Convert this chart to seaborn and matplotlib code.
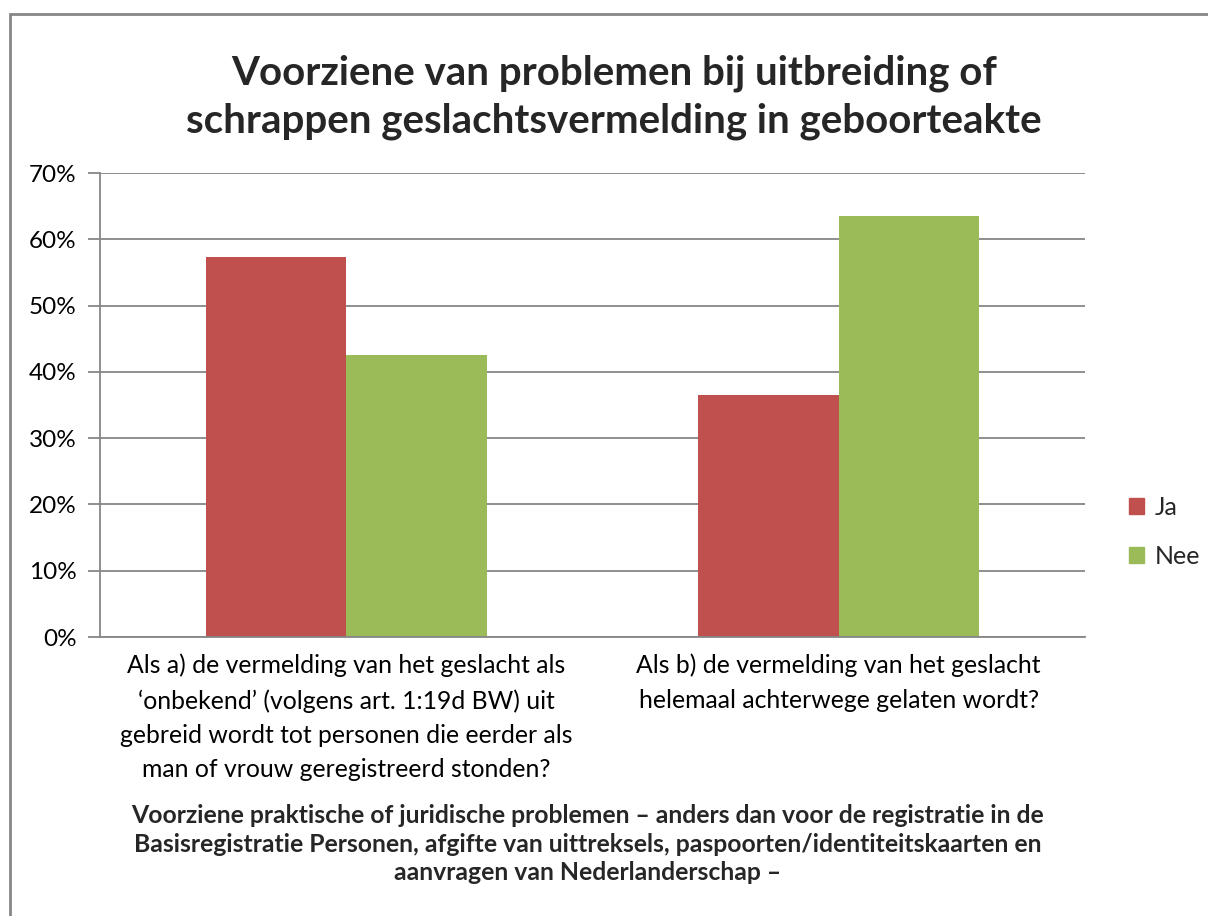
import pandas as pd
import numpy as np
import seaborn as sns
import matplotlib.pyplot as plt
from matplotlib.patches import Rectangle

# data
categories = [
    "Als a) de vermelding van het geslacht als\n"
    "\u2018onbekend\u2019 (volgens art. 1:19d BW) uit\n"
    "gebreid wordt tot personen die eerder als\n"
    "man of vrouw geregistreerd stonden?",
    "Als b) de vermelding van het geslacht\n"
    "helemaal achterwege gelaten wordt?",
]
series = ["Ja", "Nee"]
ja_values = [57.3, 36.5]
nee_values = [42.5, 63.5]
y_ticks = [0, 10, 20, 30, 40, 50, 60, 70]

title = "Voorziene van problemen bij uitbreiding of\nschrappen geslachtsvermelding in geboorteakte"
xlabel = ("Voorziene praktische of juridische problemen \u2013 anders dan voor de registratie in de\n"
          "Basisregistratie Personen, afgifte van uittreksels, paspoorten/identiteitskaarten en\n"
          "aanvragen van Nederlanderschap \u2013")

colors = {"Ja": "#C0504D", "Nee": "#9BBB59"}
grid_col = "#868686"

df = pd.DataFrame({
    "categorie": categories * 2,
    "antwoord": ["Ja"] * 2 + ["Nee"] * 2,
    "waarde": ja_values + nee_values,
})

sns.set_theme(style="white")
plt.rcParams['font.family'] = ['Lato', 'DejaVu Sans']

fig = plt.figure(figsize=(12.08, 9.16), dpi=100)
ax = fig.add_axes([100 / 1208, 1 - 637 / 916, 985 / 1208, 464 / 916])

sns.barplot(data=df, x="categorie", y="waarde", hue="antwoord", palette=colors,
            width=0.57, gap=0, saturation=1, edgecolor="none", ax=ax, legend=False)

ax.set_ylim(0, 70)
ax.set_xlim(-0.5, 1.5)
ax.set_yticks(y_ticks)
ax.set_yticklabels([f"{t}%" for t in y_ticks], fontsize=17.5, color="black")
ax.yaxis.grid(True, color=grid_col, linewidth=1.3)
ax.set_axisbelow(True)

ax.tick_params(axis="x", which="major", length=0, pad=12, labelsize=17.8, labelcolor="black")
for lab in ax.get_xticklabels():
    lab.set_linespacing(1.6)
ax.set_xticks([-0.5, 0.5, 1.5], minor=True)
ax.tick_params(axis="x", which="minor", length=9, width=1.3, color=grid_col, direction="out")
ax.tick_params(axis="y", length=9, width=1.3, color=grid_col, direction="out", left=True, pad=8)

for s in ["top", "right"]:
    ax.spines[s].set_visible(False)
for s in ["left", "bottom"]:
    ax.spines[s].set_color(grid_col)
    ax.spines[s].set_linewidth(1.3)
ax.set_xlabel("")
ax.set_ylabel("")

# legend with square markers
handles = [plt.Rectangle((0, 0), 1, 1, color=colors[s]) for s in series]
fig.legend(handles, series, loc="center left", bbox_to_anchor=(1111 / 1208, 1 - 532 / 916),
           frameon=False, fontsize=18, handlelength=0.6, handleheight=0.6,
           handletextpad=0.45, labelspacing=1.05, borderpad=0.2)

fig.text(614 / 1208, 1 - 97 / 916, title, ha="center", va="center", fontsize=29,
         fontweight="bold", linespacing=1.35)
fig.text(588 / 1208, 1 - 844 / 916, xlabel, ha="center", va="center", fontsize=17.8,
         fontweight="bold", linespacing=1.3)

# chart border
fig.patches.append(Rectangle((10 / 1208, -0.05), 1.2, 1 - 14 / 916 + 0.05, transform=fig.transFigure,
                             fill=False, edgecolor="#868686", linewidth=2))

fig.savefig("out.png", dpi=100, facecolor="white")
